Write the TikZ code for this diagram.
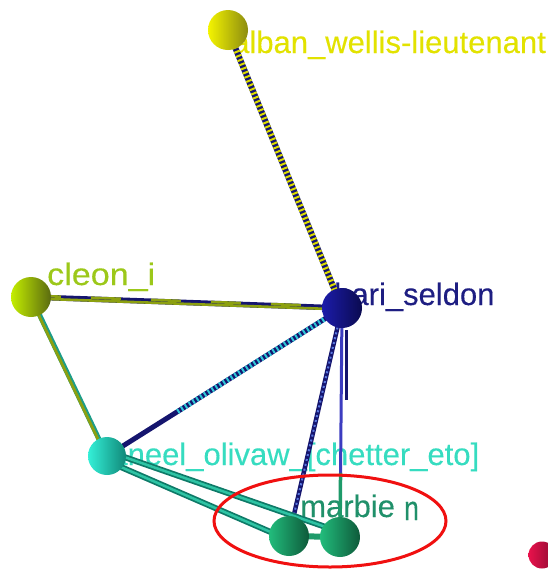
\documentclass[tikz,border=0pt]{standalone}
\usepackage{fontspec}
\setmainfont[FakeBold=0.3]{Liberation Sans}
\usetikzlibrary{calc}
\definecolor{albanL}{HTML}{F4F400}
\definecolor{albanR}{HTML}{8C8C10}
\definecolor{albanT}{HTML}{E2E200}
\definecolor{cleonL}{HTML}{C4EE00}
\definecolor{cleonR}{HTML}{5A6A10}
\definecolor{cleonT}{HTML}{9CC81A}
\definecolor{hariL}{HTML}{1C1CAA}
\definecolor{hariR}{HTML}{0A0A50}
\definecolor{hariT}{HTML}{1E1E82}
\definecolor{neelL}{HTML}{34F0D8}
\definecolor{neelR}{HTML}{108878}
\definecolor{neelT}{HTML}{36DCC0}
\definecolor{marL}{HTML}{22BC7C}
\definecolor{marR}{HTML}{0E5A3A}
\definecolor{marT}{HTML}{20906A}
\definecolor{redL}{HTML}{E8124C}
\definecolor{redR}{HTML}{8C0A30}
\definecolor{navyE}{HTML}{15156E}
\definecolor{yelE}{HTML}{DCDC00}
\definecolor{oliveE}{HTML}{8CA010}
\definecolor{tealE}{HTML}{1C9C88}
\definecolor{cyanE}{HTML}{30C8D8}
\definecolor{lblueE}{HTML}{5A78E0}
\definecolor{blueE}{HTML}{3C3CC0}
\definecolor{greenE}{HTML}{1E9A6A}
\definecolor{dtealE}{HTML}{0E7A68}
\definecolor{ltealE}{HTML}{2EC4A4}
\definecolor{ringR}{HTML}{F01010}
\pgfdeclarelayer{lab}
\pgfdeclarelayer{edg}
\pgfdeclarelayer{top}
\pgfsetlayers{lab,edg,main,top}
\begin{document}
\begin{tikzpicture}[x=1pt,y=-1pt,
  sph/.style={circle, minimum size=40pt, inner sep=0pt, draw=none},
  lbl/.style={anchor=base west, inner sep=0pt, font=\fontsize{31}{36}\selectfont},
  rod/.style={line width=#1},
  rod/.default=5pt,
  hatch/.style={dash pattern=on 2pt off 2.5pt}]
\useasboundingbox (0,0) rectangle (547,571);
% spheres
\node[sph, left color=albanL, right color=albanR] (alban) at (228,30) {};
\node[sph, left color=cleonL, right color=cleonR] (cleon) at (31,297) {};
\node[sph, left color=hariL, right color=hariR] (hari) at (342,308) {};
\node[sph, left color=neelL, right color=neelR, minimum size=38pt] (neel) at (107,456) {};
\node[sph, left color=marL, right color=marR] (mone) at (289,536) {};
\node[sph, left color=marL, right color=marR] (mtwo) at (340,537) {};
\node[sph, left color=redL, right color=redR, minimum size=27pt] (reddot) at (542,555) {};
% labels
\begin{pgfonlayer}{lab}
\node[lbl, text=albanT] (albanlab) at (232,53) {alban\_wellis-lieutenant};
\node[lbl, text=cleonT] (cleonlab) at (47,285) {\scalebox{1.1}[1]{cleon\_i}};
\node[lbl, text=hariT] (harilab) at (334,305) {hari\_seldon};
\node[lbl, text=neelT] (neellab) at (93,465) {daneel\_olivaw\_[chetter\_eto]};
\node[lbl, text=marT] (marlab) at (300,517) {marbie};
\node[lbl, text=marT] (marn) at (404,520) {\scalebox{0.85}[1.1]{n}};
\end{pgfonlayer}
% edges
\begin{pgfonlayer}{edg}
% alban - hari
\draw[rod=6pt, navyE] (alban.center) -- (hari.center);
\draw[rod=6pt, yelE, hatch] (alban.center) -- (hari.center);
% cleon - hari
\draw[rod=5.5pt, navyE] (cleon.center) -- (hari.center);
\draw[rod=2.6pt, oliveE] ($(cleon.center)+(0,1.4)$) -- ($(hari.center)+(0,1.4)$);
\draw[rod=2.6pt, oliveE, dash pattern=on 30pt off 30pt] ($(cleon.center)+(0,-1.4)$) -- ($(hari.center)+(0,-1.4)$);
% cleon - neel
\draw[rod=5pt, tealE] (cleon.center) -- (neel.center);
\draw[rod=2.8pt, oliveE] ($(cleon.center)+(-1,0)$) -- ($(neel.center)+(-1,0)$);
% neel - hari
\draw[rod=5pt, navyE] (neel.center) -- (hari.center);
\draw[rod=5pt, cyanE, hatch] ($(neel.center)!0.3!(hari.center)$) -- (hari.center);
% hari - marbie one
\draw[rod=4.5pt, navyE] (hari.center) -- (mone.center);
\draw[rod=2pt, lblueE, dash pattern=on 2pt off 3pt] (hari.center) -- (mone.center);
% hari - marbie two
\draw[rod=3pt, blueE] (hari.center) -- ($(hari.center)!0.72!(mtwo.center)$);
\draw[rod=3.5pt, greenE] ($(hari.center)!0.72!(mtwo.center)$) -- (mtwo.center);
\draw[rod=3pt, navyE] ($(hari.center)+(4,22)$) -- ($(hari.center)+(4,92)$);
% neel - marbies
\draw[rod=6pt, dtealE] ($(neel.center)+(0,-5)$) -- ($(mtwo.center)+(0,-5)$);
\draw[rod=2.5pt, ltealE] ($(neel.center)+(0,-5)$) -- ($(mtwo.center)+(0,-5)$);
\draw[rod=6pt, dtealE] ($(neel.center)+(0,5)$) -- ($(mone.center)+(0,4)$);
\draw[rod=2.5pt, ltealE] ($(neel.center)+(0,5)$) -- ($(mone.center)+(0,4)$);
% marbie link
\draw[rod=6pt, greenE] (mone.center) -- (mtwo.center);
\end{pgfonlayer}
% red ring
\begin{pgfonlayer}{top}
\draw[ringR, line width=3pt] (330,521) ellipse [x radius=116pt, y radius=46pt];
\end{pgfonlayer}
\end{tikzpicture}
\end{document}
